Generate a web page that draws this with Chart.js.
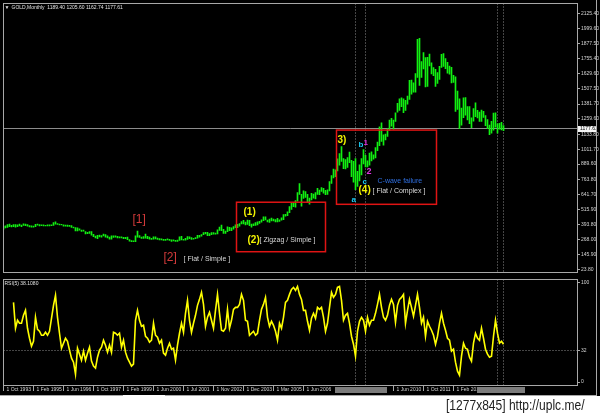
<!DOCTYPE html>
<html><head><meta charset="utf-8">
<script src="https://cdn.jsdelivr.net/npm/chart.js@4.4.1/dist/chart.umd.min.js"></script>
<style>
html,body{margin:0;padding:0;width:600px;height:416px;background:#fff;overflow:hidden}
#term{position:absolute;left:0;top:0;width:600px;height:396px;background:#000}
#c1{position:absolute;left:0;top:0}
#c2{position:absolute;left:0;top:276px}
#hb{position:absolute;left:0;top:395px;width:597px;height:1px;background:#a8a8a8}
#thumb{position:absolute;left:123px;top:395px;width:42px;height:1px;background:#fff}
#rb{position:absolute;left:596px;top:0;width:1px;height:396px;background:#a8a8a8}
#wm{position:absolute;left:446px;top:397px;font:14px 'Liberation Sans',sans-serif;color:#222;white-space:nowrap;transform:scaleX(0.86);transform-origin:0 0}
</style></head><body>
<div id="term"></div>
<canvas id="c1" width="600" height="276"></canvas>
<canvas id="c2" width="600" height="120"></canvas>
<div id="hb"></div><div id="thumb"></div><div id="rb"></div>
<div id="wm">[1277x845] http://uplc.me/</div>
<script>
// ---------------- data ----------------
const symbolName = 'GOLD,Monthly';
const titleOHLC = [1189.40, 1205.60, 1162.74, 1177.61];
const rsiTitle = 'RSI(5) 38.1080';

const priceTicks = [23.80,145.90,268.00,393.80,515.90,641.70,763.80,889.60,1011.70,1133.80,1259.60,1381.70,1507.50,1629.60,1755.40,1877.50,1999.60,2125.40];
const rsiTicks = [0, 32, 100];
const rsiLevel = 32;

const timeTickBars   = [0, 15, 30, 45, 60, 75, 90, 105, 120, 135, 150, 195, 210, 225];
const timeTickLabels = ['1 Oct 1993','1 Feb 1995','1 Jun 1996','1 Oct 1997','1 Feb 1999','1 Jun 2000','1 Jul 2001','1 Nov 2002','1 Dec 2003','1 Mar 2005','1 Jun 2006','1 Jun 2010','1 Oct 2011','1 Feb 2013'];
const vLineBars = [176, 181, 247, 250];

const barHigh = [
378,382,393,396,387,392,392,390,396,389,
399,396,392,385,382,380,394,396,393,391,
390,387,390,390,390,410,416,401,397,395,
391,388,388,386,385,372,368,365,358,348,
348,335,330,336,336,313,299,305,306,302,
315,310,300,290,300,300,300,296,292,292,
289,289,290,269,262,260,300,340,302,291,
295,315,296,290,280,292,293,282,278,275,
272,272,276,272,268,268,263,265,292,297,
272,280,294,293,285,280,285,304,305,310,
328,330,330,318,327,326,323,350,373,388,
353,340,375,370,366,376,391,395,400,417,
427,413,430,428,396,398,410,415,419,432,
456,457,429,438,446,437,433,443,431,447,
475,476,497,540,570,574,590,655,730,640,
670,664,640,611,650,643,655,690,675,696,
690,674,677,745,795,848,842,932,975,1033,
934,925,942,987,920,912,935,830,882,935,
1007,960,915,980,990,965,1025,1070,1195,1227,
1128,1135,1180,1250,1265,1250,1310,1388,1425,1432,
1424,1412,1447,1576,1578,1556,1632,1913,1921,1730,
1803,1763,1764,1791,1720,1680,1667,1640,1692,1790,
1796,1754,1723,1694,1683,1617,1605,1488,1424,1348,
1433,1434,1361,1361,1268,1345,1392,1331,1315,1332,
1322,1287,1255,1208,1239,1307,1309,1219,1224,1232,1205.6];

const barLow = [
355,366,370,375,374,376,371,375,381,376,
385,383,380,374,371,371,375,387,382,383,
382,381,381,382,384,386,395,394,389,389,
380,379,378,377,370,366,341,341,347,337,
338,317,319,320,305,293,283,276,291,289,
300,290,284,273,272,287,290,283,283,283,
277,277,268,256,253,252,253,290,287,280,
280,282,276,272,270,272,275,270,267,266,
263,263,266,262,255,258,255,255,263,266,
264,265,270,277,270,272,277,282,290,298,
309,316,302,302,310,313,313,317,344,343,
320,320,335,343,342,354,368,367,380,398,
398,389,394,384,371,384,385,389,403,412,
425,431,415,411,423,422,414,414,418,428,
433,461,465,490,517,539,535,585,640,543,
608,615,573,561,595,610,603,640,637,664,
650,638,641,668,730,775,785,832,880,910,
852,850,862,900,786,740,680,705,750,800,
890,865,865,880,915,930,940,1000,1040,1075,
1045,1088,1115,1165,1200,1175,1240,1315,1330,1360,
1310,1330,1380,1420,1462,1478,1480,1600,1535,1600,
1670,1523,1527,1695,1628,1615,1527,1550,1584,1683,
1691,1672,1635,1626,1555,1560,1321,1338,1180,1208,
1270,1290,1251,1221,1187,1241,1277,1268,1240,1240,
1272,1205,1180,1131,1142,1167,1191,1142,1175,1169,1162.74];

const rsi5 = [null,null,null,null,null,
80,54,62,59,59,67,72,54,44,36,41,65,53,51,47,47,50,47,51,64,77,87,65,49,34,39,44,41,32,24,20,8,34,28,22,
31,22,29,35,21,16,14,25,32,35,42,37,30,37,30,50,49,47,49,35,42,30,24,20,16,18,62,72,62,56,
57,46,44,40,42,59,47,45,39,42,29,27,34,39,33,34,22,37,49,59,50,69,82,62,50,59,67,77,83,90,
78,56,65,70,62,54,72,88,69,52,51,54,73,54,62,73,75,75,78,88,82,62,61,47,49,51,47,49,62,73,
78,85,65,56,61,57,51,42,59,54,65,80,82,88,93,95,92,96,88,83,72,72,61,52,64,69,64,75,73,75,
65,51,59,75,90,85,88,95,96,82,62,67,69,59,46,38,26,51,61,65,62,51,65,57,62,62,69,78,88,75,
65,62,67,77,83,78,60,77,83,85,88,59,72,83,75,66,77,88,75,59,65,46,61,56,52,47,38,46,59,69,
59,52,44,42,31,33,20,11,7,26,39,34,33,25,21,39,49,44,42,54,44,33,28,25,26,46,62,49,39,41,38];

// annotations (text, anchor bar, anchor price)
const notes = [
  {t:'[1]', b:64.5, p:430, c:'#d23a3a', f:"12px 'Liberation Sans'"},
  {t:'[2]', b:80, p:121, c:'#d23a3a', f:"12px 'Liberation Sans'"},
  {t:'[ Flat / Simple ]', b:90, p:113, c:'#d8d8d8', f:"7px 'Liberation Sans'"},
  {t:'(1)', b:120, p:494, c:'#f2f200', f:"bold 10px 'Liberation Sans'"},
  {t:'(2)', b:122, p:267, c:'#f2f200', f:"bold 10px 'Liberation Sans'"},
  {t:'[ Zigzag / Simple ]', b:128, p:267, c:'#d8d8d8', f:"7px 'Liberation Sans'"},
  {t:'3)', b:167, p:1087, c:'#f2f200', f:"bold 10px 'Liberation Sans'"},
  {t:'b', b:177.5, p:1046, c:'#18c8f0', f:"bold 8px 'Liberation Sans'"},
  {t:'1', b:180, p:1062, c:'#e030e0', f:"bold 8px 'Liberation Sans'"},
  {t:'2', b:181.5, p:827, c:'#e030e0', f:"bold 9px 'Liberation Sans'"},
  {t:'c', b:179.5, p:746, c:'#18c8f0', f:"bold 8px 'Liberation Sans'"},
  {t:'C-wave failure', b:187, p:746, c:'#2f6fe0', f:"7px 'Liberation Sans'"},
  {t:'(4)', b:177.5, p:673, c:'#f2f200', f:"bold 10px 'Liberation Sans'"},
  {t:'[ Flat / Complex ]', b:184.5, p:665, c:'#d8d8d8', f:"7px 'Liberation Sans'"},
  {t:'a', b:174, p:592, c:'#18c8f0', f:"bold 8px 'Liberation Sans'"}
];
const boxes = [
  {b0:116.5, b1:161, p0:576, p1:170},
  {b0:166.5, b1:216.5, p0:1168, p1:559}
];

// ---------------- chart ----------------
const FONT = "'Liberation Sans','DejaVu Sans',sans-serif";
const AX = '#d4d4d4', FR = '#a8a8a8';
const xMax = 286.75;
const common = {responsive:false, animation:false, devicePixelRatio:1, events:[],
  plugins:{legend:{display:false}, tooltip:{enabled:false}}};

function frame(ctx, a){
  ctx.save();
  ctx.strokeStyle = FR; ctx.lineWidth = 1;
  ctx.strokeRect(Math.floor(a.left)+0.5, Math.floor(a.top)+0.5, Math.floor(a.right)-Math.floor(a.left), Math.floor(a.bottom)-Math.floor(a.top));
  ctx.restore();
}
function vlines(chart){
  const {ctx, chartArea:a, scales:{x}} = chart;
  ctx.save(); ctx.strokeStyle = '#8a8a8a'; ctx.lineWidth = 1; ctx.setLineDash([1,2]);
  for (const b of vLineBars){
    const px = Math.floor(x.getPixelForValue(b)) + 0.5;
    ctx.beginPath(); ctx.moveTo(px, a.top); ctx.lineTo(px, a.bottom); ctx.stroke();
  }
  ctx.restore();
}

const mainOverlay = {
  id:'mainOverlay',
  beforeDatasetsDraw(chart){
    const {ctx, chartArea:a, scales:{y}} = chart;
    ctx.save();
    const py = Math.floor(y.getPixelForValue(titleOHLC[3])) + 0.5;
    ctx.strokeStyle = '#8c8c8c'; ctx.lineWidth = 1;
    ctx.beginPath(); ctx.moveTo(a.left, py); ctx.lineTo(a.right, py); ctx.stroke();
    ctx.restore();
    vlines(chart);
  },
  afterDatasetsDraw(chart){
    const {ctx, scales:{x,y}} = chart;
    ctx.save();
    ctx.strokeStyle = '#e01414'; ctx.lineWidth = 1.5;
    for (const r of boxes){
      const x0 = x.getPixelForValue(r.b0), x1 = x.getPixelForValue(r.b1);
      const y0 = y.getPixelForValue(r.p0), y1 = y.getPixelForValue(r.p1);
      ctx.strokeRect(x0, y0, x1-x0, y1-y0);
    }
    ctx.textBaseline = 'middle'; ctx.textAlign = 'left';
    for (const n of notes){
      ctx.font = n.f; ctx.fillStyle = n.c;
      ctx.fillText(n.t, x.getPixelForValue(n.b), y.getPixelForValue(n.p));
    }
    ctx.restore();
  },
  afterDraw(chart){
    const {ctx, chartArea:a, scales:{y}} = chart;
    frame(ctx, a);
    ctx.save();
    const py = y.getPixelForValue(titleOHLC[3]);
    ctx.fillStyle = '#f4f4f4';
    ctx.fillRect(a.right+1, Math.round(py)-3, 19, 6);
    ctx.fillStyle = '#000'; ctx.font = '5px ' + FONT; ctx.textBaseline = 'middle'; ctx.textAlign = 'left';
    ctx.fillText(titleOHLC[3].toFixed(2), a.right+3, py);
    ctx.fillStyle = '#e0e0e0'; ctx.font = '5px ' + FONT;
    ctx.fillText('\u25BC', a.left+1, a.top+4);
    ctx.fillText(symbolName + '  ' + titleOHLC.map(v=>v.toFixed(2)).join(' '), a.left+8, a.top+4);
    ctx.restore();
  }
};

const rsiOverlay = {
  id:'rsiOverlay',
  beforeDatasetsDraw(chart){
    const {ctx, chartArea:a, scales:{y}} = chart;
    ctx.save(); ctx.strokeStyle = '#8a8a8a'; ctx.lineWidth = 1; ctx.setLineDash([1,2]);
    const py = Math.floor(y.getPixelForValue(rsiLevel)) + 0.5;
    ctx.beginPath(); ctx.moveTo(a.left, py); ctx.lineTo(a.right, py); ctx.stroke();
    ctx.restore();
    vlines(chart);
  },
  afterDraw(chart){
    const {ctx, chartArea:a, scales:{x}} = chart;
    frame(ctx, a);
    ctx.save();
    ctx.fillStyle = '#e0e0e0'; ctx.font = '5px ' + FONT; ctx.textBaseline = 'middle'; ctx.textAlign = 'left';
    ctx.fillText(rsiTitle, a.left+1, a.top+4);
    ctx.strokeStyle = FR; ctx.lineWidth = 1;
    for (const b of timeTickBars){
      const px = Math.floor(x.getPixelForValue(b)) + 0.5;
      ctx.beginPath(); ctx.moveTo(px, a.bottom+1); ctx.lineTo(px, a.bottom+6); ctx.stroke();
    }
    ctx.fillStyle = '#7c7c7c';
    for (const b of vLineBars){
      const px = x.getPixelForValue(b);
      ctx.fillRect(Math.round(px-21), a.bottom+2, 42, 6);
    }
    ctx.restore();
  }
};

new Chart(document.getElementById('c1'), {
  type:'bar',
  data:{datasets:[{data: barHigh.map((h,i)=>({x:i, y:[barLow[i], h]})), backgroundColor:'#12f012', barThickness:1, borderWidth:0}]},
  options:{...common,
    layout:{padding:{left:3.5, top:3, right:0, bottom:1}, autoPadding:false},
    scales:{
      x:{type:'linear', display:false, min:0, max:xMax, offset:false},
      y:{type:'linear', position:'right', min:-0.54, max:2206.5,
        afterBuildTicks: s => { s.ticks = priceTicks.map(v => ({value:v})); },
        afterFit: s => { s.width = 23; },
        ticks:{color:AX, font:{family:FONT, size:5, lineHeight:1}, padding:1, autoSkip:false, callback: v => Number(v).toFixed(2)},
        grid:{drawOnChartArea:false, drawTicks:true, tickLength:3, color:FR},
        border:{display:false}}
    }},
  plugins:[mainOverlay]
});

new Chart(document.getElementById('c2'), {
  type:'line',
  data:{datasets:[{data: rsi5.map((v,i)=>({x:i, y:v})), borderColor:'#ffff00', borderWidth:1.6, pointRadius:0, tension:0, spanGaps:false}]},
  options:{...common,
    layout:{padding:{left:3.5, top:1, right:0, bottom:0}, autoPadding:false},
    scales:{
      x:{type:'linear', min:0, max:xMax, offset:false,
        afterBuildTicks: s => { s.ticks = timeTickBars.map(v => ({value:v})); },
        afterFit: s => { s.height = 11; },
        ticks:{color:AX, font:{family:FONT, size:5, lineHeight:1}, padding:2, align:'start', labelOffset:3, autoSkip:false, maxRotation:0, minRotation:0,
          callback: v => timeTickLabels[timeTickBars.indexOf(v)]},
        grid:{drawOnChartArea:false, drawTicks:false},
        border:{display:false}},
      y:{type:'linear', position:'right', min:-2.94, max:102.94,
        afterBuildTicks: s => { s.ticks = rsiTicks.map(v => ({value:v})); },
        afterFit: s => { s.width = 23; },
        ticks:{color:AX, font:{family:FONT, size:5, lineHeight:1}, padding:1, autoSkip:false, callback: v => String(v)},
        grid:{drawOnChartArea:false, drawTicks:true, tickLength:3, color:FR},
        border:{display:false}}
    }},
  plugins:[rsiOverlay]
});
</script>
</body></html>
